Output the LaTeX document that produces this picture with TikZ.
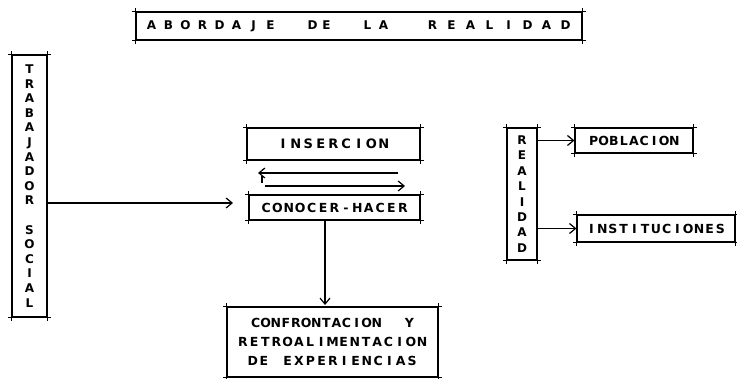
\documentclass[tikz,border=0pt]{standalone}
\usepackage{fontspec}
\setmainfont{DejaVu Sans}
\usetikzlibrary{arrows.meta}
\newfontfamily\lettering{DejaVu Sans Bold}
\makeatletter
\newcommand\pitched[2]{\@tfor\sp@c:=#2\do{\makebox[#1]{\sp@c}}}
\makeatother
\begin{document}
\begin{tikzpicture}[x=1pt,y=-1pt,
  box/.style={draw,line width=1.2pt,inner sep=0pt,align=center,font=\lettering\fontsize{12.5}{18.7}\selectfont},
  ext/.style={line width=1.2pt,shorten <=-3pt,shorten >=-3pt},
  arr/.style={line width=1.2pt,-{Straight Barb[length=6pt,width=10pt]}}]
\useasboundingbox (0,0) rectangle (737,379);
\node[box,minimum width=446pt,minimum height=28pt,font=\lettering\fontsize{12}{14}\selectfont] (title) at (359,26)
  {\pitched{17pt}{ABORDAJE}\hspace{26.5pt}\pitched{14pt}{DE}\hspace{26pt}\pitched{16pt}{LA}\hspace{31.5pt}\pitched{19pt}{REALIDAD}};
\node[box,minimum width=35pt,minimum height=262pt,font=\lettering\fontsize{12}{14.6}\selectfont] (ts) at (29.5,186)
  {T\\R\\A\\B\\A\\J\\A\\D\\O\\R\\[14.6pt]S\\O\\C\\I\\A\\L};
\node[box,minimum width=173pt,minimum height=32pt,font=\lettering\fontsize{13}{16}\selectfont] (ins) at (333.5,144) {\raisebox{-2pt}{\pitched{12.6pt}{INSERCION}}};
\node[box,minimum width=171pt,minimum height=25pt] (ch) at (334.5,207.5) {\pitched{11.4pt}{CONOCER-HACER}};
\node[box,minimum width=211pt,minimum height=70pt] (conf) at (332.5,342)
  {\pitched{10.1pt}{CONFRONTACION}\hspace{22.4pt}\makebox[10.1pt]{Y}\\
   \pitched{11.2pt}{RETROALIMENTACION}\\
   \pitched{11pt}{DE}\hspace{12.8pt}\pitched{11.3pt}{EXPERIENCIAS}};
\node[box,minimum width=30pt,minimum height=132pt,font=\lettering\fontsize{12}{15.4}\selectfont] (real) at (522,194)
  {R\\E\\A\\L\\I\\D\\A\\D};
\node[box,minimum width=118pt,minimum height=25pt] (pob) at (634,140.5) {\pitched{10.1pt}{POBLACION}};
\node[box,minimum width=158pt,minimum height=27pt] (inst) at (656,228.5) {\pitched{10.75pt}{INSTITUCIONES}};
\foreach \n in {title,ts,ins,ch,conf,real,pob,inst}{
  \draw[ext] (\n.north west) -- (\n.north east);
  \draw[ext] (\n.south west) -- (\n.south east);
  \draw[ext] (\n.north west) -- (\n.south west);
  \draw[ext] (\n.north east) -- (\n.south east);
}
% connectors
\coordinate (tsend) at (233,203);
\draw[arr] (ts.east |- tsend) -- (tsend);
\coordinate (fbA) at (398,173);
\coordinate (fbB) at (258,173);
\coordinate (fbC) at (265,186);
\coordinate (fbD) at (405,186);
\coordinate (fbT) at (262,176);
\coordinate (fbU) at (262,183);
\draw[arr] (fbA) -- (fbB);
\draw[arr] (fbC) -- (fbD);
\draw[line width=1.2pt] (fbT) -- (fbU);
\coordinate (vtop) at (325,220);
\coordinate (vbot) at (325,305);
\draw[arr] (vtop) -- (vbot);
\draw[arr] (real.east |- pob.west) -- (pob.west);
\draw[arr] (real.east |- inst.west) -- (inst.west);
\end{tikzpicture}
\end{document}
